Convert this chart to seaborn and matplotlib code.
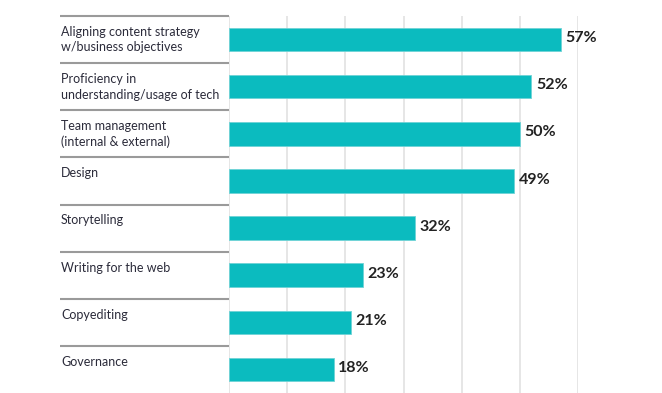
import matplotlib
matplotlib.use("Agg")
import matplotlib.pyplot as plt
import seaborn as sns
import pandas as pd
from matplotlib.transforms import blended_transform_factory

categories = [
    "Aligning content strategy\nw/business objectives",
    "Proficiency in\nunderstanding/usage of tech",
    "Team management\n(internal & external)",
    "Design",
    "Storytelling",
    "Writing for the web",
    "Copyediting",
    "Governance",
]
values = [57, 52, 50, 49, 32, 23, 21, 18]
value_labels = ["57%", "52%", "50%", "49%", "32%", "23%", "21%", "18%"]

df = pd.DataFrame({"skill": categories, "pct": values})

sns.set_theme(style="white")
plt.rcParams["font.family"] = ["Lato", "DejaVu Sans"]

fig = plt.figure(figsize=(6.62, 3.93), dpi=100)
ax = fig.add_axes([229 / 662, 0.0, (578 - 229) / 662, 1 - 16 / 393])

sns.barplot(data=df, x="pct", y="skill", color="#0BBBBF", width=0.5,
            saturation=1, ax=ax, edgecolor="#6fd3d6", linewidth=0.6)

ax.set_xlim(0, 60)
ax.set_ylim(7.5, -0.5)
ax.set_xticks(range(0, 61, 10))
ax.grid(axis="x", color="#e2e2e2", linewidth=1.2)
ax.set_axisbelow(True)
for s in ax.spines.values():
    s.set_visible(False)
ax.tick_params(left=False, bottom=False, labelleft=False, labelbottom=False)
ax.set_xlabel("")
ax.set_ylabel("")

for i, (v, lab) in enumerate(zip(values, value_labels)):
    ax.text(v + 0.8, i - 0.03, lab, va="center", ha="left", fontsize=11.5,
            fontweight="bold", color="#222222")

trans = blended_transform_factory(ax.transAxes, ax.transData)
x0 = (60 - 229) / (578 - 229)
for i, cat in enumerate(categories):
    ax.plot([x0, 0], [i - 0.5, i - 0.5], transform=trans, color="#9a9a9a",
            linewidth=1.5, clip_on=False, solid_capstyle="butt")
    ax.text(x0 + 0.003, i - 0.5 + 0.21, cat, transform=trans, va="top",
            ha="left", fontsize=9, color="#2b2b3a", linespacing=1.35)

fig.savefig("out.png", dpi=100)
